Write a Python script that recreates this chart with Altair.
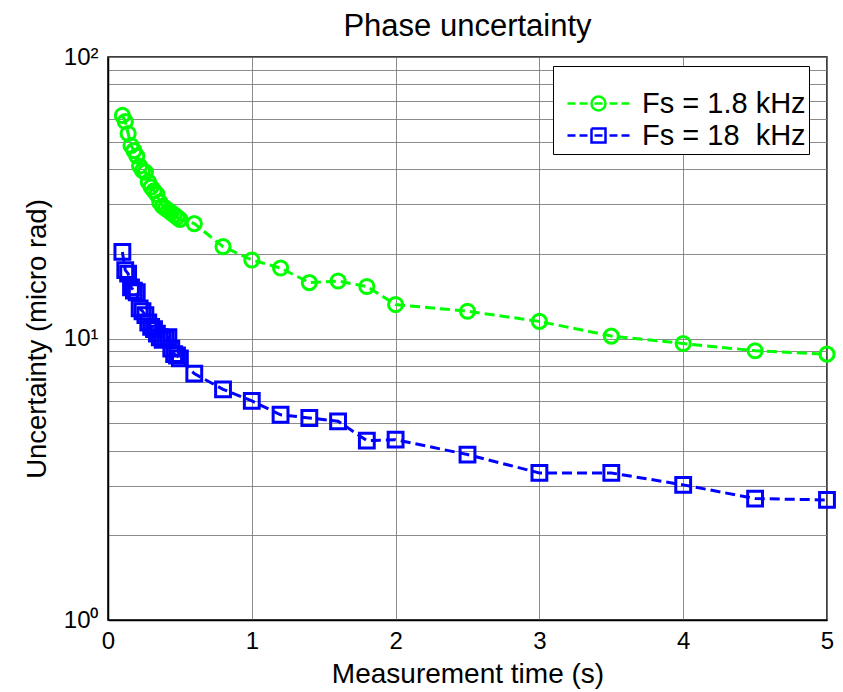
import altair as alt
import pandas as pd

# Measurement time (s)
t_values = [0.10, 0.12, 0.14, 0.16, 0.18, 0.20, 0.22, 0.24, 0.26, 0.28, 0.30,
            0.32, 0.34, 0.36, 0.38, 0.40, 0.42, 0.44, 0.46, 0.48, 0.50,
            0.6, 0.8, 1.0, 1.2, 1.4, 1.6, 1.8, 2.0, 2.5, 3.0, 3.5, 4.0, 4.5, 5.0]

# Uncertainty (micro rad), Fs = 1.8 kHz
u_low = [62.0, 59.0, 53.5, 48.5, 46.5, 44.5, 41.0, 39.5, 39.0, 36.0, 34.5,
         33.5, 32.5, 30.5, 29.5, 29.0, 28.5, 28.0, 27.5, 27.0, 26.5,
         25.6, 21.2, 19.0, 17.8, 15.8, 16.0, 15.3, 13.2, 12.5, 11.5, 10.2, 9.6, 9.05, 8.8]

# Uncertainty (micro rad), Fs = 18 kHz
u_high = [20.3, 17.5, 17.0, 15.2, 14.8, 14.6, 12.8, 12.5, 12.1, 11.4, 11.0,
          10.8, 10.4, 10.1, 9.9, 10.0, 10.1, 9.2, 8.8, 8.7, 8.5,
          7.5, 6.6, 6.0, 5.36, 5.22, 5.08, 4.34, 4.37, 3.87, 3.33, 3.33, 3.02, 2.70, 2.67]

series_names = ["Fs = 1.8 kHz", "Fs = 18\u00a0 kHz"]
series_colors = ["#00ff00", "#0000ff"]

y_ticks = [1, 2, 3, 4, 5, 6, 7, 8, 9, 10, 20, 30, 40, 50, 60, 70, 80, 90, 100]
x_ticks = [0, 1, 2, 3, 4, 5]

df = pd.concat([
    pd.DataFrame({"t": t_values, "u": u_low, "series": series_names[0]}),
    pd.DataFrame({"t": t_values, "u": u_high, "series": series_names[1]}),
], ignore_index=True)

FONT = "Liberation Sans"
GRID = "#777777"

color_scale = alt.Scale(domain=series_names, range=series_colors)

# legend symbols: dashed line with the marker in the middle
dashes = "M-4.43,0L-3.29,0M-2.71,0L-1.57,0M-0.57,0L0.57,0M1.57,0L2.71,0M3.29,0L4.43,0"
legend_circle = dashes + "M-1,0A1,1,0,1,0,1,0A1,1,0,1,0,-1,0"
legend_square = dashes + "M-1,-1L1,-1L1,1L-1,1L-1,-1"
shape_scale = alt.Scale(domain=series_names, range=[legend_circle, legend_square])

x_enc = alt.X("t:Q",
              scale=alt.Scale(domain=[0, 5], nice=False),
              axis=alt.Axis(values=x_ticks, title="Measurement time (s)",
                            labelFontSize=24, titleFontSize=28, labelFont=FONT, titleFont=FONT,
                            labelColor="black", titleColor="black", titleFontWeight="normal",
                            ticks=False, labelPadding=9, titlePadding=7,
                            grid=True, gridColor=GRID, gridWidth=1, gridOpacity=0.85,
                            domainColor="black", domainWidth=1.5, labelFlush=False))
y_enc = alt.Y("u:Q",
              scale=alt.Scale(type="log", domain=[1, 100], nice=False),
              axis=alt.Axis(values=y_ticks, title="Uncertainty (micro rad)",
                            labelExpr="datum.value == 1 ? '10⁰' : datum.value == 10 ? '10¹' : datum.value == 100 ? '10²' : ''",
                            labelFontSize=24, titleFontSize=27.5, labelFont=FONT, titleFont=FONT,
                            labelColor="black", titleColor="black", titleFontWeight="normal",
                            ticks=False, labelPadding=10, titlePadding=12, labelOverlap=False,
                            grid=True, gridColor=GRID, gridWidth=1, gridOpacity=0.85,
                            domainColor="black", domainWidth=1.5))

base = alt.Chart(df)

lines = base.mark_line(strokeDash=[10, 5], strokeWidth=3).encode(
    x=x_enc, y=y_enc,
    color=alt.Color("series:N", scale=color_scale, legend=None),
    detail="series:N",
)

circles = base.transform_filter(alt.datum.series == series_names[0]).mark_point(
    shape="circle", filled=False, size=200, strokeWidth=3, opacity=1
).encode(x=x_enc, y=y_enc, color=alt.Color("series:N", scale=color_scale, legend=None))

squares = base.transform_filter(alt.datum.series == series_names[1]).mark_point(
    shape="square", filled=False, size=220, strokeWidth=3, opacity=1
).encode(x=x_enc, y=y_enc, color=alt.Color("series:N", scale=color_scale, legend=None))

legend_def = alt.Legend(
    title=" ", titleFontSize=6, titlePadding=14,
    orient="none", legendX=445, legendY=9,
    labelFontSize=29, labelFont=FONT, labelColor="black", labelLimit=400,
    symbolSize=196, symbolStrokeWidth=2.5, symbolFillColor="transparent", symbolOpacity=1,
    symbolOffset=28, labelOffset=29, rowPadding=2, padding=3,
    strokeColor="black", fillColor="white",
)

# invisible layer that only carries the legend
legend_layer = base.mark_point(filled=False, strokeWidth=2.5, size=0).encode(
    x=x_enc, y=y_enc,
    color=alt.Color("series:N", scale=color_scale, legend=legend_def),
    shape=alt.Shape("series:N", scale=shape_scale, legend=legend_def),
)

chart = alt.layer(lines, circles, squares, legend_layer).resolve_legend(
    color="independent", shape="independent"
).properties(
    width=719, height=563,
    padding={"left": 108, "top": 57, "right": 16, "bottom": 72},
    autosize="none",
    title=alt.TitleParams("Phase uncertainty", fontSize=31, font=FONT, fontWeight="normal",
                          color="black", anchor="middle", offset=2),
    background="white",
).configure_view(stroke="black", strokeWidth=1.5)

chart.save("out.html", embed_options={"renderer": "svg", "actions": False})
